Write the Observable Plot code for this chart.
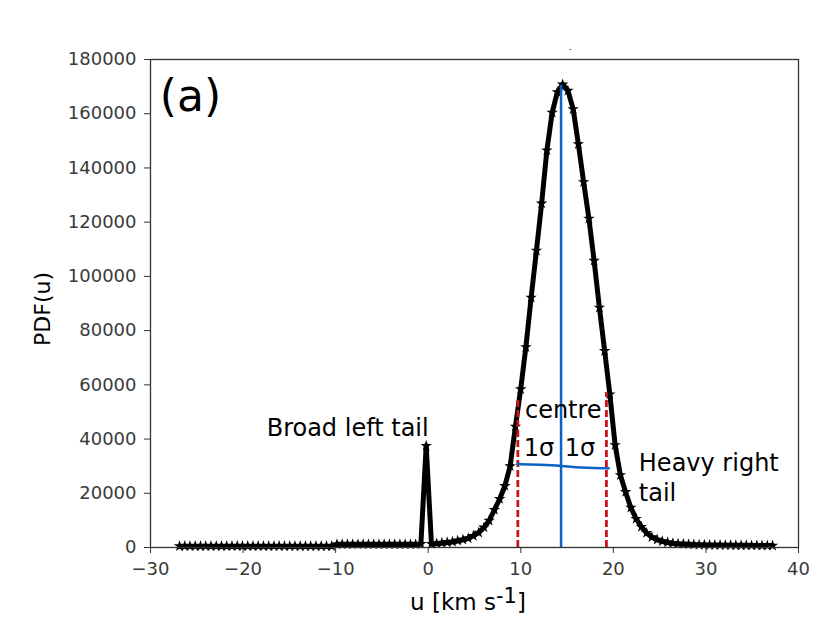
<!DOCTYPE html>
<html><head><meta charset="utf-8">
<script src="https://cdn.jsdelivr.net/npm/d3@7"></script>
<script src="https://cdn.jsdelivr.net/npm/@observablehq/plot@0.6"></script>
<style>body{margin:0;background:#fff;} #chart svg{display:block}</style>
</head><body><div id="chart"></div>
<script>
// bin centres u [km s-1]
const u = [-26.87,-26.30,-25.74,-25.17,-24.60,-24.04,-23.47,-22.90,-22.33,-21.77,
 -21.20,-20.63,-20.07,-19.50,-18.93,-18.37,-17.80,-17.23,-16.66,-16.10,
 -15.53,-14.96,-14.40,-13.83,-13.26,-12.70,-12.13,-11.56,-10.99,-10.43,
 -9.86,-9.29,-8.73,-8.16,-7.59,-7.03,-6.46,-5.89,-5.32,-4.76,
 -4.19,-3.62,-3.06,-2.49,-1.92,-1.36,-0.79,-0.22,0.35,0.91,
 1.48,2.05,2.62,3.18,3.75,4.32,4.88,5.45,6.02,6.58,
 7.15,7.72,8.28,8.85,9.42,9.99,10.55,11.12,11.69,12.25,
 12.82,13.39,13.95,14.52,15.09,15.66,16.22,16.79,17.36,17.92,
 18.49,19.06,19.62,20.19,20.76,21.32,21.89,22.46,23.03,23.59,
 24.16,24.73,25.29,25.86,26.43,26.99,27.56,28.13,28.69,29.26,
 29.83,30.40,30.96,31.53,32.10,32.66,33.23,33.80,34.36,34.93,
 35.50,36.06,36.63,37.20];
// PDF(u)
const pdf = [500,500,500,500,500,500,500,500,500,500,
 500,500,500,500,500,500,500,500,500,500,
 500,500,500,500,500,500,500,500,500,500,
 1200,1200,1200,1200,1200,1200,1200,1200,1200,1200,
 1200,1200,1200,1200,1200,1200,1300,37500,1300,1500,
 1700,1900,2100,2500,2900,3400,4300,5500,7400,9900,
 13900,17900,22700,30000,44600,58400,73900,92200,109500,126900,
 146500,160400,168000,170800,168500,161700,148800,134800,121300,105800,
 88500,72500,56500,37800,26700,20500,14700,10600,7600,5400,
 3800,2900,2300,1900,1600,1400,1300,1200,1100,1000,
 1000,950,900,900,850,850,800,800,800,750,
 750,700,700,700];

const xTicks = [-30,-20,-10,0,10,20,30,40];
const yTicks = [0,20000,40000,60000,80000,100000,120000,140000,160000,180000];

const centreU = [14.35];
const centreTop = [170500];
const sigmaU = [9.68, 19.25];
const sigmaTop = [54500, 57000];
const barU = [9.68, 12.0, 14.35, 15.5, 19.5];
const barY = [30800, 30500, 30200, 29500, 29200];

const noteText = ["Broad left tail","centre","1σ","1σ","Heavy right","tail"];
const noteU = [-17.45, 10.45, 10.32, 14.75, 22.75, 22.75];
const noteY = [41000, 47700, 33600, 33600, 28300, 17300];

const data = u.map((d,i)=>({u:d, p:pdf[i]}));
const notes = noteText.map((t,i)=>({t, u:noteU[i], y:noteY[i]}));
const rules = sigmaU.map((d,i)=>({u:d, top:sigmaTop[i]}));
const bar = barU.map((d,i)=>({u:d, y:barY[i]}));

const blue = "#0a62c8", red = "#c8141a";

const svg = Plot.plot({
  width: 830, height: 641,
  marginLeft: 150, marginRight: 32, marginTop: 59, marginBottom: 94,
  x: {domain: [-30, 40]},
  y: {domain: [0, 180000]},
  style: {fontFamily: "DejaVu Sans", color: "#3a3a3a", background: "white", overflow: "visible"},
  marks: [
    Plot.axisX({ticks: xTicks, tickSize: 6, tickPadding: 9, fontSize: 18, label: null, stroke: "#333"}),
    Plot.axisY({ticks: yTicks, tickFormat: d => String(d), tickSize: 6, tickPadding: 8, fontSize: 18, label: null, stroke: "#333"}),
    Plot.line(data, {x: "u", y: "p", stroke: "black", strokeWidth: 5, strokeLinejoin: "round"}),
    Plot.dot(data, {x: "u", y: "p", symbol: "star", r: 3.6, fill: "black", stroke: "none"}),
    Plot.ruleX(rules, {x: "u", y1: 0, y2: "top", stroke: red, strokeWidth: 2.8, strokeDasharray: "7,3"}),
    Plot.ruleX(centreU, {x: d => d, y1: 0, y2: () => centreTop[0], stroke: blue, strokeWidth: 2.5}),
    Plot.line(bar, {x: "u", y: "y", stroke: blue, strokeWidth: 2.5, curve: "basis"}),
    Plot.text(notes, {x: "u", y: "y", text: "t", textAnchor: "start", lineAnchor: "bottom", fontSize: 24, fill: "black"}),
    Plot.text(["(a)"], {x: () => -29.0, y: () => 161100, text: d => d, textAnchor: "start", lineAnchor: "bottom", fontSize: 44, fill: "black"}),
    Plot.text(["-"], {x: () => 15.37, y: () => 184000, text: d => d, fontSize: 9, fill: "#666"}),
    Plot.frame({stroke: "#333", strokeWidth: 1.3})
  ]
});

const s = d3.select(svg);
s.append("text")
  .attr("transform", "translate(50,309) rotate(-90)")
  .attr("text-anchor", "middle")
  .attr("font-family", "DejaVu Sans").attr("font-size", 22).attr("fill", "black")
  .text("PDF(u)");
const xl = s.append("text")
  .attr("x", 468).attr("y", 610)
  .attr("text-anchor", "middle")
  .attr("font-family", "DejaVu Sans").attr("font-size", 23).attr("fill", "black");
xl.append("tspan").text("u [km s");
xl.append("tspan").attr("dy", -7).attr("font-size", 21).text("-1");
xl.append("tspan").attr("dy", 7).text("]");

document.getElementById("chart").appendChild(svg);
</script>
</body></html>
